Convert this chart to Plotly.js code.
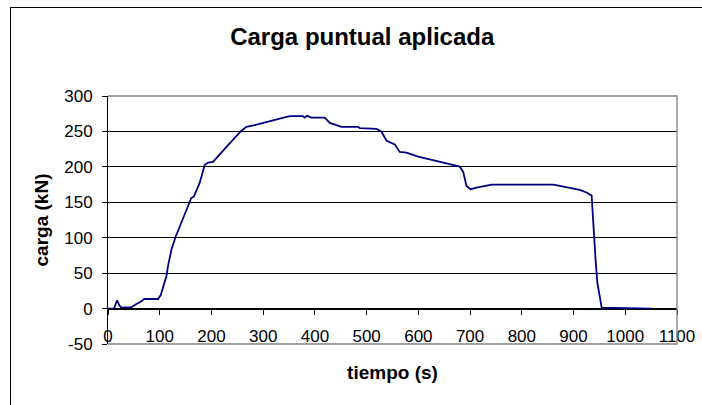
<!DOCTYPE html>
<html>
<head>
<meta charset="utf-8">
<script src="https://cdn.plot.ly/plotly-3.0.1.min.js"></script>
<style>
  html, body { margin: 0; padding: 0; width: 702px; height: 405px; overflow: hidden; background: #fff; }
  #frame { position: absolute; left: 10px; top: 7px; width: 800px; height: 500px; border: 1.5px solid #000; }
  #chart { position: absolute; left: 0; top: 0; width: 702px; height: 405px; }
</style>
</head>
<body>
<div id="frame"></div>
<div id="chart"></div>
<script>
"use strict";

// load curve: time (s) and load (kN)
const tiempo = [0, 11.6, 17.4, 22.6, 26, 45, 55, 64.6, 69.6, 96.7, 102, 108, 113, 116, 122.6, 130, 138.7,
  151.6, 161, 166, 177, 187, 193.5, 203, 216, 225.7, 240, 258, 267.7, 283.7, 306, 332, 351.5, 377, 380, 385,
  393, 419, 428.8, 441.8, 451.5, 483.6, 486.8, 519, 528.8, 538.5, 554.5, 564, 577, 599.6, 628.6, 654.5,
  680, 686.7, 693, 701, 712.6, 722, 741.6, 861, 886.7, 912, 925, 935, 937, 939.5, 943, 946, 950, 954.4, 1051];
const carga = [0, 0, 11.7, 3.7, 1.4, 2, 6.5, 10.2, 13.5, 13.5, 19, 32, 46, 60, 83, 100, 116,
  139.5, 156, 158, 177, 202.7, 206, 207, 218, 224.7, 237, 251, 256.5, 259, 263.5, 268, 271.5, 271.5, 269.5, 272,
  269.6, 269.5, 262, 259, 256.5, 256.5, 254.6, 253.6, 249.5, 236.8, 231.7, 221, 220, 214.3, 209.7, 205,
  200.3, 193, 173, 168.5, 170.8, 172, 175, 175, 171.3, 167.6, 163.8, 159.6, 134.8, 97, 64.6, 36.5, 17.7, 1.4, 0];

const yTicks = [-50, 0, 50, 100, 150, 200, 250, 300];
const xTicks = [0, 100, 200, 300, 400, 500, 600, 700, 800, 900, 1000, 1100];

const font = "Liberation Sans, Arial, sans-serif";

const trace = {
  x: tiempo,
  y: carga,
  mode: "lines",
  type: "scatter",
  line: { color: "#000080", width: 1.8 },
  hoverinfo: "skip"
};

const layout = {
  width: 702,
  height: 405,
  margin: { l: 108, r: 25, t: 96, b: 61, pad: 0 },
  paper_bgcolor: "rgba(0,0,0,0)",
  plot_bgcolor: "#fff",
  showlegend: false,
  font: { family: font, size: 17, color: "#000" },
  title: {
    text: "Carga puntual aplicada",
    font: { family: font, size: 24, color: "#000", weight: "bold" },
    x: 0.516, xref: "container", xanchor: "center",
    y: 0.909, yref: "container", yanchor: "middle"
  },
  xaxis: {
    range: [0, 1100],
    tickvals: xTicks,
    ticktext: xTicks.map(String),
    anchor: "free",
    position: 50 / 350,
    showgrid: false,
    zeroline: false,
    showline: true,
    linecolor: "#000",
    linewidth: 1,
    ticks: "outside",
    ticklen: 5,
    tickcolor: "#000",
    ticklabelstandoff: 7,
    tickfont: { family: font, size: 17, color: "#000" },
    title: {
      text: "tiempo (s)",
      font: { family: font, size: 19, color: "#000", weight: "bold" },
      standoff: 20
    },
    automargin: false
  },
  yaxis: {
    range: [-50, 300],
    tickvals: yTicks,
    ticktext: yTicks.map(String),
    showgrid: true,
    gridcolor: "#000",
    gridwidth: 1,
    zeroline: false,
    showline: true,
    linecolor: "#000",
    linewidth: 1,
    ticks: "outside",
    ticklen: 5,
    tickcolor: "#000",
    ticklabelstandoff: 6,
    tickfont: { family: font, size: 17, color: "#000" },
    title: {
      text: "carga (kN)",
      font: { family: font, size: 19, color: "#000", weight: "bold" },
      standoff: 10
    },
    automargin: false
  },
  shapes: [{
    type: "path",
    xref: "paper", yref: "paper",
    path: "M0,1 L1,1 L1,0 L0,0",
    line: { color: "#808080", width: 1.3 },
    layer: "above"
  }]
};

Plotly.newPlot("chart", [trace], layout, { staticPlot: true, displayModeBar: false });
</script>
</body>
</html>
